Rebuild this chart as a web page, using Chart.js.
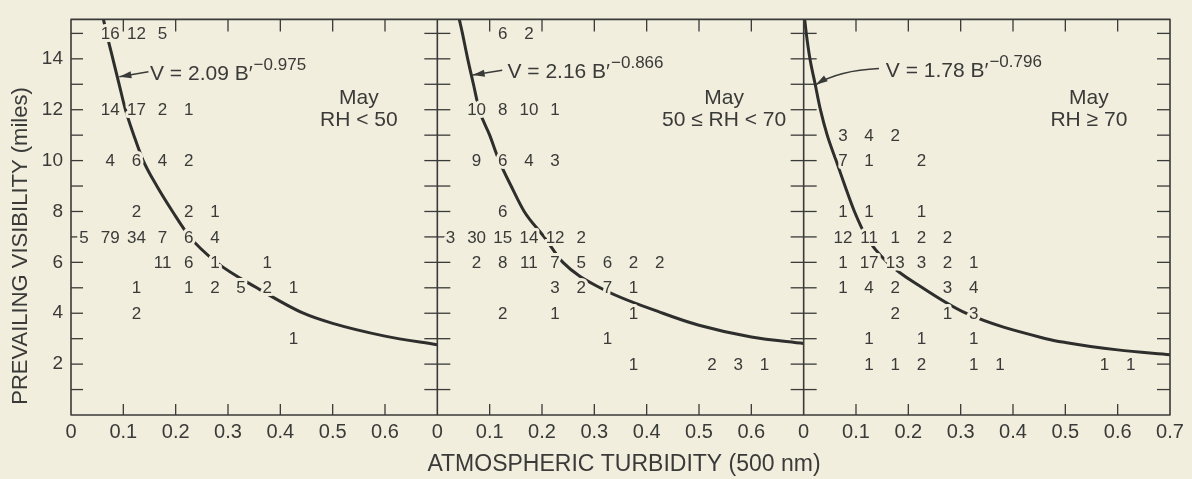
<!DOCTYPE html>
<html>
<head>
<meta charset="utf-8">
<script src="https://cdn.jsdelivr.net/npm/chart.js@4.4.0/dist/chart.umd.min.js"></script>
<style>
  html, body { margin: 0; padding: 0; background: #f1eede; }
  canvas { display: block; }
</style>
</head>
<body>
<canvas id="chart" width="1192" height="479"></canvas>
<script>
// each panel covers turbidity 0 .. 0.7, panels sit side by side on one x axis
const panelSpan = 0.7;
const xTickLabels = ['0', '0.1', '0.2', '0.3', '0.4', '0.5', '0.6'];
const lastTickLabel = '0.7';
const yTickLabels = ['2', '4', '6', '8', '10', '12', '14'];

const panelTitles = [['May', 'RH < 50'], ['May', '50 ≤ RH < 70'], ['May', 'RH ≥ 70']];
const fitText = ['V = 2.09 B′', 'V = 2.16 B′', 'V = 1.78 B′'];
const fitPower = ['−0.975', '−0.866', '−0.796'];

// fitted curves
const curveLowB  = [0.062, 0.068, 0.080, 0.092, 0.104, 0.120, 0.138, 0.164, 0.194, 0.227, 0.278, 0.355, 0.444, 0.500, 0.600, 0.700];
const curveLowV  = [15.55, 15.0, 14.0, 13.0, 12.0, 11.0, 10.0, 9.0, 8.0, 7.0, 6.0, 5.0, 4.0, 3.6, 3.1, 2.76];
const curveMidB  = [0.042, 0.048, 0.058, 0.069, 0.080, 0.100, 0.118, 0.141, 0.166, 0.204, 0.240, 0.311, 0.431, 0.500, 0.600, 0.700];
const curveMidV  = [15.55, 15.0, 14.0, 13.0, 12.0, 11.0, 10.0, 9.0, 8.0, 7.0, 6.0, 5.0, 4.0, 3.53, 3.07, 2.81];
const curveHighB = [0.002, 0.005, 0.012, 0.022, 0.032, 0.045, 0.062, 0.079, 0.097, 0.120, 0.160, 0.227, 0.310, 0.463, 0.500, 0.600, 0.700];
const curveHighV = [15.55, 15.0, 14.0, 13.0, 12.0, 11.0, 10.0, 9.0, 8.0, 7.0, 6.0, 5.0, 4.0, 3.0, 2.85, 2.56, 2.37];

// number of observations: [turbidity, visibility, count]
const countsLow = [
  [0.075, 15, 16], [0.125, 15, 12], [0.175, 15, 5],
  [0.075, 12, 14], [0.125, 12, 17], [0.175, 12, 2], [0.225, 12, 1],
  [0.075, 10, 4], [0.125, 10, 6], [0.175, 10, 4], [0.225, 10, 2],
  [0.125, 8, 2], [0.225, 8, 2], [0.275, 8, 1],
  [0.025, 7, 5], [0.075, 7, 79], [0.125, 7, 34], [0.175, 7, 7], [0.225, 7, 6], [0.275, 7, 4],
  [0.175, 6, 11], [0.225, 6, 6], [0.275, 6, 1], [0.375, 6, 1],
  [0.125, 5, 1], [0.225, 5, 1], [0.275, 5, 2], [0.325, 5, 5], [0.375, 5, 2], [0.425, 5, 1],
  [0.125, 4, 2],
  [0.425, 3, 1]
];
const countsMid = [
  [0.125, 15, 6], [0.175, 15, 2],
  [0.075, 12, 10], [0.125, 12, 8], [0.175, 12, 10], [0.225, 12, 1],
  [0.075, 10, 9], [0.125, 10, 6], [0.175, 10, 4], [0.225, 10, 3],
  [0.125, 8, 6],
  [0.025, 7, 3], [0.075, 7, 30], [0.125, 7, 15], [0.175, 7, 14], [0.225, 7, 12], [0.275, 7, 2],
  [0.075, 6, 2], [0.125, 6, 8], [0.175, 6, 11], [0.225, 6, 7], [0.275, 6, 5], [0.325, 6, 6], [0.375, 6, 2], [0.425, 6, 2],
  [0.225, 5, 3], [0.275, 5, 2], [0.325, 5, 7], [0.375, 5, 1],
  [0.125, 4, 2], [0.225, 4, 1], [0.375, 4, 1],
  [0.325, 3, 1],
  [0.375, 2, 1], [0.525, 2, 2], [0.575, 2, 3], [0.625, 2, 1]
];
const countsHigh = [
  [0.075, 11, 3], [0.125, 11, 4], [0.175, 11, 2],
  [0.075, 10, 7], [0.125, 10, 1], [0.225, 10, 2],
  [0.075, 8, 1], [0.125, 8, 1], [0.225, 8, 1],
  [0.075, 7, 12], [0.125, 7, 11], [0.175, 7, 1], [0.225, 7, 2], [0.275, 7, 2],
  [0.075, 6, 1], [0.125, 6, 17], [0.175, 6, 13], [0.225, 6, 3], [0.275, 6, 2], [0.325, 6, 1],
  [0.075, 5, 1], [0.125, 5, 4], [0.175, 5, 2], [0.275, 5, 3], [0.325, 5, 4],
  [0.175, 4, 2], [0.275, 4, 1], [0.325, 4, 3],
  [0.125, 3, 1], [0.225, 3, 1], [0.325, 3, 1],
  [0.125, 2, 1], [0.175, 2, 1], [0.225, 2, 2], [0.325, 2, 1], [0.375, 2, 1], [0.575, 2, 1], [0.625, 2, 1]
];

// where the notes sit, in panel data units
const titleSpots = [[0.550, 12.47, 11.58], [0.548, 12.47, 11.58], [0.545, 12.47, 11.58]];
const noteSpots = [
  {text: [0.151, 13.17], tail: [0.148, 13.49], bend: null,          tip: [0.0924, 13.30]},
  {text: [0.134, 13.23], tail: [0.124, 13.55], bend: null,          tip: [0.0675, 13.36]},
  {text: [0.157, 13.30], tail: [0.144, 13.62], bend: [0.067, 13.55], tip: [0.023, 12.98]}
];

const ink = '#3a3a38';
const paper = '#f1eede';
const font = '"Liberation Sans", Arial, sans-serif';

const curves = [[curveLowB, curveLowV], [curveMidB, curveMidV], [curveHighB, curveHighV]];
const counts = [countsLow, countsMid, countsHigh];

const datasets = [];
curves.forEach(([bs, vs], p) => {
  datasets.push({
    data: bs.map((b, i) => ({x: b + p * panelSpan, y: vs[i]})),
    showLine: true,
    borderColor: '#2e2e2c',
    borderWidth: 3,
    pointRadius: 0,
    cubicInterpolationMode: 'monotone'
  });
});
counts.forEach((rows, p) => {
  datasets.push({
    data: rows.map(r => ({x: r[0] + p * panelSpan, y: r[1]})),
    counts: rows.map(r => r[2]),
    showLine: false,
    pointRadius: 0
  });
});

function seg(ctx, x1, y1, x2, y2) {
  ctx.beginPath(); ctx.moveTo(x1, y1); ctx.lineTo(x2, y2); ctx.stroke();
}

const paperFrame = {
  id: 'paperFrame',
  beforeDatasetsDraw(chart) {
    const {ctx, chartArea: a, scales: {x, y}} = chart;
    ctx.save();
    ctx.strokeStyle = ink;
    ctx.lineWidth = 1.3;
    const dividers = [panelSpan, 2 * panelSpan].map(v => x.getPixelForValue(v));
    for (let i = 1; i < 21; i++) {
      if (i % 7 === 0) continue;
      const px = x.getPixelForValue(i / 10);
      seg(ctx, px, a.bottom, px, a.bottom - 11);
      seg(ctx, px, a.top, px, a.top + 12);
    }
    for (let v = 1; v <= 15; v++) {
      const py = y.getPixelForValue(v);
      seg(ctx, a.left, py, a.left + 12, py);
      dividers.forEach(px => seg(ctx, px - 13, py, px + 13, py));
      seg(ctx, a.right - 13, py, a.right, py);
    }
    ctx.restore();
  },
  afterDatasetsDraw(chart) {
    const {ctx, chartArea: a, scales: {x, y}} = chart;
    ctx.save();
    // observation counts, with a paper halo that breaks the curve behind them
    ctx.font = '17px ' + font;
    ctx.textAlign = 'center';
    ctx.textBaseline = 'middle';
    ctx.lineJoin = 'round';
    for (let p = 0; p < 3; p++) {
      const ds = chart.data.datasets[3 + p];
      chart.getDatasetMeta(3 + p).data.forEach((pt, i) => {
        const t = String(ds.counts[i]);
        ctx.strokeStyle = paper; ctx.lineWidth = 6;
        ctx.strokeText(t, pt.x, pt.y + 1);
        ctx.fillStyle = ink;
        ctx.fillText(t, pt.x, pt.y + 1);
      });
    }
    // frame and panel dividers stay unbroken
    ctx.strokeStyle = ink;
    ctx.lineWidth = 1.6;
    ctx.strokeRect(a.left, a.top, a.right - a.left, a.bottom - a.top);
    [panelSpan, 2 * panelSpan].forEach(v => {
      const px = x.getPixelForValue(v);
      seg(ctx, px, a.top, px, a.bottom);
    });
    // panel titles
    ctx.fillStyle = ink;
    ctx.font = '21px ' + font;
    titleSpots.forEach((s, p) => {
      const cx = x.getPixelForValue(s[0] + p * panelSpan);
      ctx.fillText(panelTitles[p][0], cx, y.getPixelForValue(s[1]));
      ctx.fillText(panelTitles[p][1], cx, y.getPixelForValue(s[2]));
    });
    // fit equations and arrows
    ctx.textAlign = 'left';
    ctx.textBaseline = 'alphabetic';
    noteSpots.forEach((n, p) => {
      const off = p * panelSpan;
      const tx = x.getPixelForValue(n.text[0] + off), ty = y.getPixelForValue(n.text[1]);
      ctx.font = '21px ' + font;
      ctx.fillText(fitText[p], tx, ty);
      const w = ctx.measureText(fitText[p]).width;
      ctx.font = '17px ' + font;
      ctx.fillText(fitPower[p], tx + w + 1, ty - 10);

      const x1 = x.getPixelForValue(n.tail[0] + off), y1 = y.getPixelForValue(n.tail[1]);
      const x2 = x.getPixelForValue(n.tip[0] + off), y2 = y.getPixelForValue(n.tip[1]);
      let cx = x1, cy = y1;
      ctx.strokeStyle = ink; ctx.lineWidth = 1.5;
      ctx.beginPath(); ctx.moveTo(x1, y1);
      if (n.bend) {
        cx = x.getPixelForValue(n.bend[0] + off); cy = y.getPixelForValue(n.bend[1]);
        ctx.quadraticCurveTo(cx, cy, x2, y2);
      } else {
        ctx.lineTo(x2, y2);
      }
      ctx.stroke();
      const ang = Math.atan2(y2 - cy, x2 - cx);
      ctx.beginPath();
      ctx.moveTo(x2, y2);
      ctx.lineTo(x2 - 12 * Math.cos(ang) + 3.5 * Math.sin(ang), y2 - 12 * Math.sin(ang) - 3.5 * Math.cos(ang));
      ctx.lineTo(x2 - 12 * Math.cos(ang) - 3.5 * Math.sin(ang), y2 - 12 * Math.sin(ang) + 3.5 * Math.cos(ang));
      ctx.closePath(); ctx.fill();
    });
    ctx.restore();
  },
  afterDraw(chart) {
    const {ctx} = chart;
    ctx.save();
    ctx.fillStyle = ink;
    ctx.textAlign = 'center';
    ctx.textBaseline = 'middle';
    ctx.font = '23px ' + font;
    ctx.fillText('ATMOSPHERIC TURBIDITY (500 nm)', 624, 465);
    ctx.translate(21, 246);
    ctx.rotate(-Math.PI / 2);
    ctx.font = '22px ' + font;
    ctx.fillText('PREVAILING VISIBILITY (miles)', 0, 0);
    ctx.restore();
  }
};

new Chart(document.getElementById('chart'), {
  type: 'scatter',
  data: {datasets},
  plugins: [paperFrame],
  options: {
    responsive: false,
    animation: false,
    devicePixelRatio: 1,
    layout: {padding: {top: 9, right: 22, left: 0, bottom: 0}},
    plugins: {legend: {display: false}, tooltip: {enabled: false}},
    scales: {
      x: {
        type: 'linear', min: 0, max: 3 * panelSpan,
        grid: {display: false, drawTicks: false},
        border: {display: false},
        afterFit: s => { s.height = 64; },
        ticks: {
          stepSize: 0.1, autoSkip: false, maxRotation: 0, padding: 5,
          color: ink, font: {family: font, size: 20},
          callback: v => {
            const i = Math.round(v * 10);
            return i === 21 ? lastTickLabel : xTickLabels[i % 7];
          }
        }
      },
      y: {
        type: 'linear', min: 0, max: 15.55,
        grid: {display: false, drawTicks: false},
        border: {display: false},
        afterFit: s => { s.width = 71; },
        ticks: {
          stepSize: 1, autoSkip: false, padding: 8,
          color: ink, font: {family: font, size: 19},
          callback: v => {
            const t = String(Math.round(v));
            return Math.abs(v - Math.round(v)) < 1e-6 && yTickLabels.includes(t) ? t : '';
          }
        }
      }
    }
  }
});
</script>
</body>
</html>
